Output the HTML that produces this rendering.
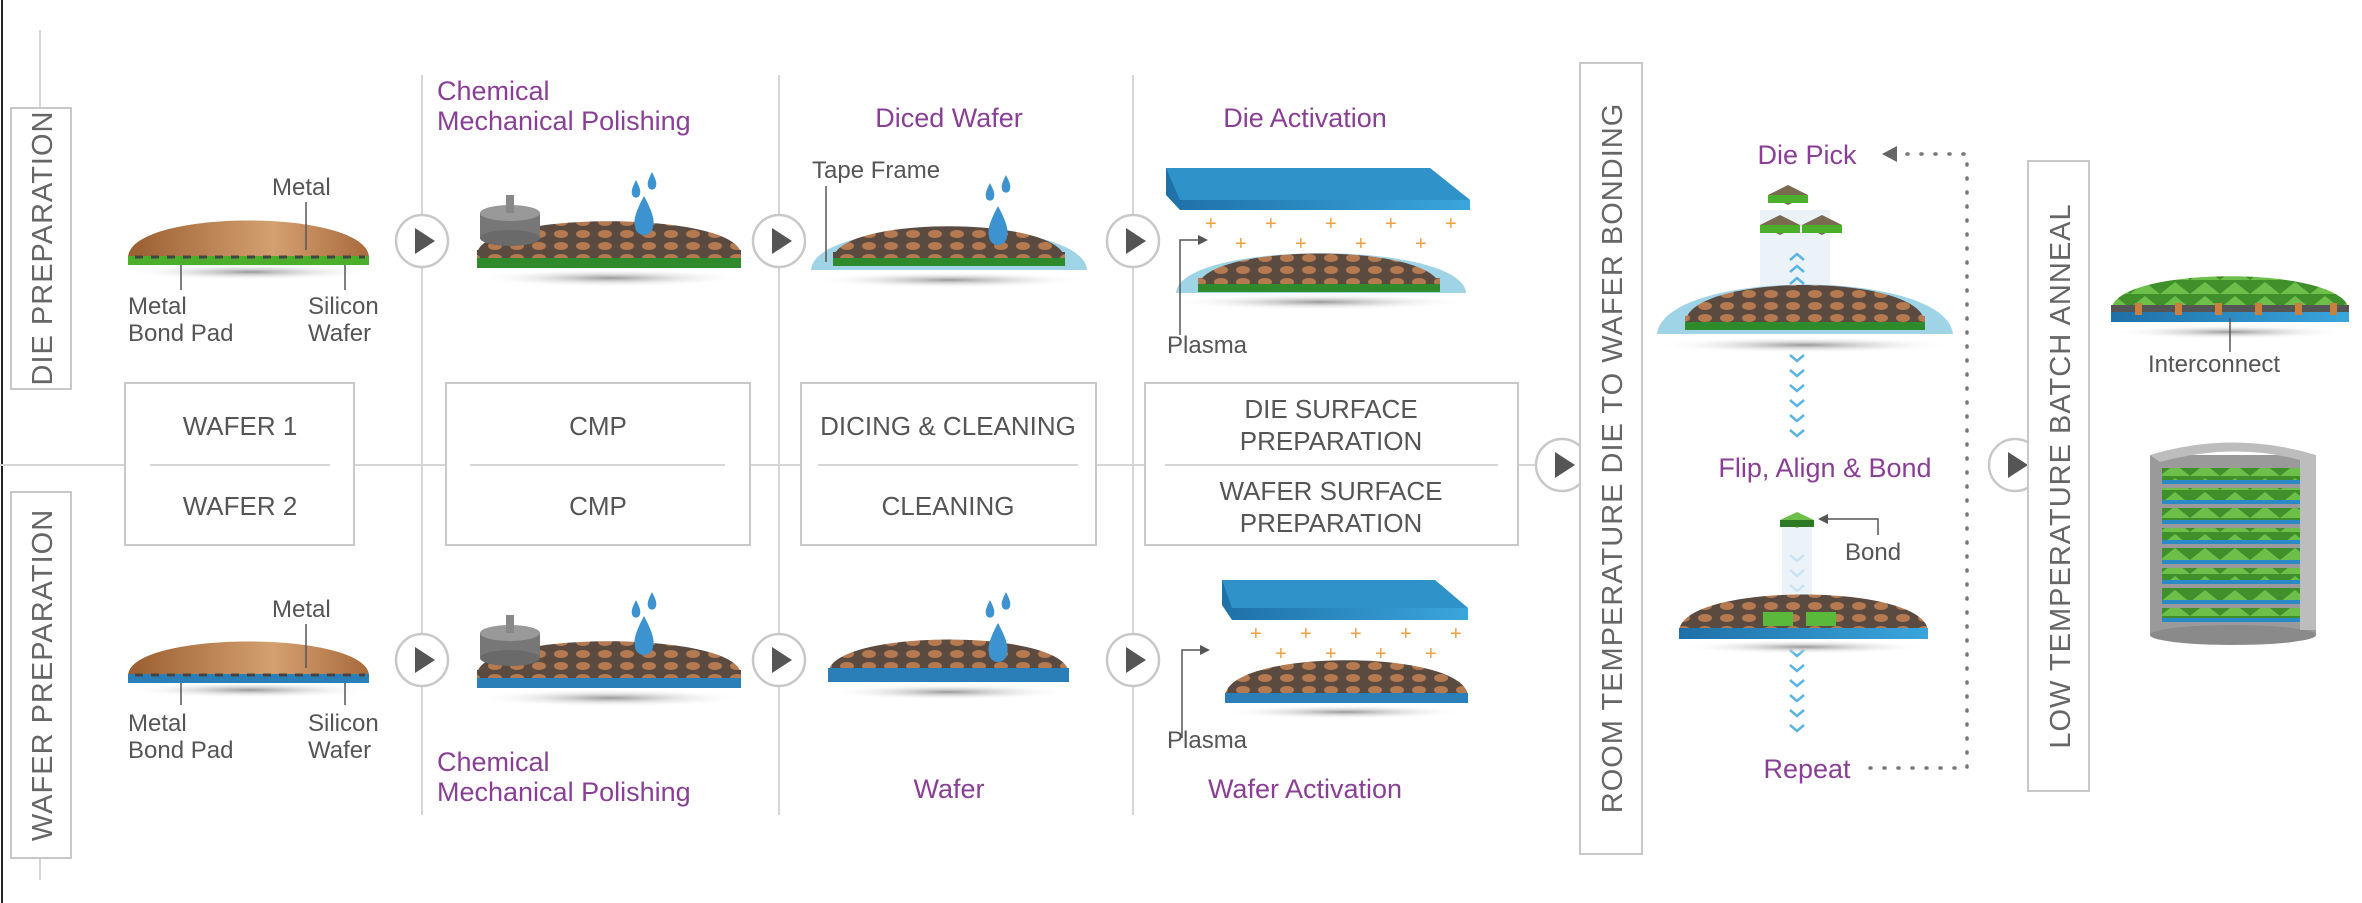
<!DOCTYPE html>
<html><head><meta charset="utf-8"><style>
html,body{margin:0;padding:0;background:#fff;}
svg{display:block;}
text{font-family:"Liberation Sans",sans-serif;}
.g{fill:#555;font-size:24px;}
.p{fill:#8a3f96;font-size:27px;}
.b{fill:#555;font-size:26px;text-anchor:middle;}
.v{fill:#666;font-size:29px;text-anchor:middle;letter-spacing:1px;}
.ln{stroke:#d6d6d6;stroke-width:2;fill:none;}
.bx{stroke:#c8c8c8;stroke-width:2;fill:#fff;}
</style></head><body>
<svg width="2362" height="903" viewBox="0 0 2362 903" xmlns="http://www.w3.org/2000/svg">
<defs>
<pattern id="grid" width="22" height="12" patternUnits="userSpaceOnUse">
<rect width="22" height="12" fill="#5a4a40"/>
<ellipse cx="11" cy="6" rx="7" ry="4" fill="#b57a50"/>
</pattern>
<pattern id="gr" width="30" height="14" patternUnits="userSpaceOnUse">
<rect width="30" height="14" fill="#3f8f2a"/>
<path d="M0 14 L15 2 L30 14" fill="#6cc04a"/>
</pattern>
<linearGradient id="cu" x1="0" x2="1"><stop offset="0" stop-color="#9a5e30"/><stop offset="0.6" stop-color="#d4a070"/><stop offset="1" stop-color="#a86a3c"/></linearGradient>
<linearGradient id="bl" x1="0" x2="1"><stop offset="0" stop-color="#1e70a8"/><stop offset="1" stop-color="#3aa6dc"/></linearGradient>
<radialGradient id="sh"><stop offset="0" stop-color="#999"/><stop offset="1" stop-color="#fff" stop-opacity="0"/></radialGradient>
<g id="arr"><circle r="26" fill="#fff" stroke="#c8c8c8" stroke-width="2.5"/><path d="M-7 -13 L13 0 L-7 13Z" fill="#555"/></g>
<g id="drop"><path d="M0 -22 Q12 0 9 8 A9 9 0 0 1 -9 8 Q-12 0 0 -22Z" fill="#3d92d0"/></g>
</defs>

<line x1="2" y1="0" x2="2" y2="903" stroke="#222" stroke-width="2"/>

<line class="ln" x1="40" y1="30" x2="40" y2="108"/>
<line class="ln" x1="40" y1="858" x2="40" y2="880"/>
<line class="ln" x1="422" y1="75" x2="422" y2="815"/>
<line class="ln" x1="779" y1="75" x2="779" y2="815"/>
<line class="ln" x1="1133" y1="75" x2="1133" y2="815"/>
<line class="ln" x1="0" y1="465" x2="1545" y2="465"/>

<rect class="bx" x="11" y="108" width="60" height="281"/>
<text class="v" transform="translate(52,248) rotate(-90)">DIE PREPARATION</text>
<rect class="bx" x="11" y="492" width="60" height="366"/>
<text class="v" transform="translate(52,675) rotate(-90)">WAFER PREPARATION</text>

<rect class="bx" x="125" y="383" width="229" height="162"/>
<line class="ln" x1="150" y1="465" x2="330" y2="465"/>
<text class="b" x="240" y="435">WAFER 1</text><text class="b" x="240" y="515">WAFER 2</text>
<rect class="bx" x="446" y="383" width="304" height="162"/>
<line class="ln" x1="470" y1="465" x2="725" y2="465"/>
<text class="b" x="598" y="435">CMP</text><text class="b" x="598" y="515">CMP</text>
<rect class="bx" x="801" y="383" width="295" height="162"/>
<line class="ln" x1="818" y1="465" x2="1078" y2="465"/>
<text class="b" x="948" y="435">DICING &amp; CLEANING</text><text class="b" x="948" y="515">CLEANING</text>
<rect class="bx" x="1145" y="383" width="373" height="162"/>
<line class="ln" x1="1165" y1="465" x2="1498" y2="465"/>
<text class="b" x="1331" y="418">DIE SURFACE</text><text class="b" x="1331" y="450">PREPARATION</text>
<text class="b" x="1331" y="500">WAFER SURFACE</text><text class="b" x="1331" y="532">PREPARATION</text>

<use href="#arr" x="422" y="241"/><use href="#arr" x="779" y="241"/><use href="#arr" x="1133" y="241"/>
<use href="#arr" x="422" y="660"/><use href="#arr" x="779" y="660"/><use href="#arr" x="1133" y="660"/>
<use href="#arr" x="1562" y="465"/><use href="#arr" x="2015" y="465"/>

<text class="p" x="437" y="100">Chemical</text><text class="p" x="437" y="130">Mechanical Polishing</text>
<text class="p" x="949" y="127" text-anchor="middle">Diced Wafer</text>
<text class="p" x="1305" y="127" text-anchor="middle">Die Activation</text>
<text class="p" x="437" y="771">Chemical</text><text class="p" x="437" y="801">Mechanical Polishing</text>
<text class="p" x="949" y="798" text-anchor="middle">Wafer</text>
<text class="p" x="1305" y="798" text-anchor="middle">Wafer Activation</text>

<!-- top wafer 1 -->
<ellipse cx="250" cy="272" rx="125" ry="8" fill="url(#sh)"/>
<path d="M128 258 C128 208 369 208 369 258Z" fill="url(#cu)"/>
<rect x="128" y="256" width="241" height="9" fill="#4caf2c"/>
<line x1="135" y1="257" x2="365" y2="257" stroke="#444" stroke-width="3" stroke-dasharray="8 8"/>
<text class="g" x="272" y="195">Metal</text>
<line x1="306" y1="202" x2="306" y2="250" stroke="#555" stroke-width="1.5"/>
<line x1="181" y1="265" x2="181" y2="290" stroke="#555" stroke-width="1.5"/>
<line x1="345" y1="265" x2="345" y2="290" stroke="#555" stroke-width="1.5"/>
<text class="g" x="128" y="314">Metal</text><text class="g" x="128" y="341">Bond Pad</text>
<text class="g" x="308" y="314">Silicon</text><text class="g" x="308" y="341">Wafer</text>

<!-- bottom wafer 2 -->
<ellipse cx="250" cy="690" rx="125" ry="8" fill="url(#sh)"/>
<path d="M128 676 C128 630 369 630 369 676Z" fill="url(#cu)"/>
<rect x="128" y="674" width="241" height="9" fill="#2a7fb8"/>
<line x1="135" y1="675" x2="365" y2="675" stroke="#444" stroke-width="3" stroke-dasharray="8 8"/>
<text class="g" x="272" y="617">Metal</text>
<line x1="306" y1="624" x2="306" y2="668" stroke="#555" stroke-width="1.5"/>
<line x1="181" y1="683" x2="181" y2="705" stroke="#555" stroke-width="1.5"/>
<line x1="345" y1="683" x2="345" y2="705" stroke="#555" stroke-width="1.5"/>
<text class="g" x="128" y="731">Metal</text><text class="g" x="128" y="758">Bond Pad</text>
<text class="g" x="308" y="731">Silicon</text><text class="g" x="308" y="758">Wafer</text>

<!-- CMP top -->
<g>
<ellipse cx="610" cy="278" rx="135" ry="9" fill="url(#sh)"/>
<path d="M477 255 C477 210 741 210 741 255Z" fill="url(#grid)"/>
<rect x="477" y="250" width="264" height="18" fill="url(#grid)"/>
<rect x="477" y="258" width="264" height="10" fill="#2e8a2a"/>
<rect x="480" y="213" width="60" height="25" fill="#777"/><ellipse cx="510" cy="238" rx="30" ry="8" fill="#6a6a6a"/><ellipse cx="510" cy="213" rx="30" ry="8" fill="#999"/>
<rect x="506" y="195" width="8" height="18" fill="#888"/>
<use href="#drop" x="644" y="218"/><use href="#drop" transform="translate(636,190) scale(0.45)"/><use href="#drop" transform="translate(652,182) scale(0.45)"/>
</g>
<g transform="translate(0,420)">
<ellipse cx="610" cy="278" rx="135" ry="9" fill="url(#sh)"/>
<path d="M477 255 C477 210 741 210 741 255Z" fill="url(#grid)"/>
<rect x="477" y="250" width="264" height="18" fill="url(#grid)"/>
<rect x="477" y="258" width="264" height="10" fill="#2a7fb8"/>
<rect x="480" y="213" width="60" height="25" fill="#777"/><ellipse cx="510" cy="238" rx="30" ry="8" fill="#6a6a6a"/><ellipse cx="510" cy="213" rx="30" ry="8" fill="#999"/>
<rect x="506" y="195" width="8" height="18" fill="#888"/>
<use href="#drop" x="644" y="218"/><use href="#drop" transform="translate(636,190) scale(0.45)"/><use href="#drop" transform="translate(652,182) scale(0.45)"/>
</g>

<!-- Diced wafer -->
<ellipse cx="950" cy="280" rx="140" ry="8" fill="url(#sh)"/>
<path d="M811 270 C815 215 1083 215 1087 270Z" fill="#9fd3e6"/>
<path d="M833 260 C833 215 1065 215 1065 260Z" fill="url(#grid)"/>
<rect x="833" y="252" width="232" height="10" fill="url(#grid)"/>
<rect x="833" y="258" width="232" height="8" fill="#2e8a2a"/>
<use href="#drop" x="998" y="228"/><use href="#drop" transform="translate(990,193) scale(0.45)"/><use href="#drop" transform="translate(1006,185) scale(0.45)"/>
<text class="g" x="812" y="178">Tape Frame</text>
<line x1="826" y1="186" x2="826" y2="262" stroke="#555" stroke-width="1.5"/>
<ellipse cx="949" cy="692" rx="122" ry="8" fill="url(#sh)"/>
<path d="M828 674 C828 628 1069 628 1069 674Z" fill="url(#grid)"/>
<rect x="828" y="668" width="241" height="14" fill="#2a7fb8"/>
<use href="#drop" x="998" y="645"/><use href="#drop" transform="translate(990,610) scale(0.45)"/><use href="#drop" transform="translate(1006,602) scale(0.45)"/>

<!-- Die activation -->
<path d="M1166 168 L1430 168 L1470 200 L1470 210 L1180 210 L1166 195Z" fill="url(#bl)"/>
<path d="M1166 168 L1430 168 L1470 200 L1180 200Z" fill="#2f92c8"/>
<g fill="#f0a040" font-size="20" font-family="Liberation Sans">
<text x="1205" y="230">+</text><text x="1265" y="230">+</text><text x="1325" y="230">+</text><text x="1385" y="230">+</text><text x="1445" y="230">+</text>
<text x="1235" y="250">+</text><text x="1295" y="250">+</text><text x="1355" y="250">+</text><text x="1415" y="250">+</text>
</g>
<ellipse cx="1320" cy="302" rx="150" ry="8" fill="url(#sh)"/>
<path d="M1176 293 C1180 240 1462 240 1466 293Z" fill="#9fd3e6"/>
<path d="M1198 288 C1198 242 1440 242 1440 288Z" fill="url(#grid)"/>
<rect x="1198" y="278" width="242" height="8" fill="url(#grid)"/>
<rect x="1198" y="284" width="242" height="8" fill="#2e8a2a"/>
<path d="M1180 335 V240 H1200" fill="none" stroke="#555" stroke-width="1.5"/><path d="M1198 235 L1208 240 L1198 245Z" fill="#555"/>
<text class="g" x="1167" y="353">Plasma</text>
<path d="M1222 580 L1435 580 L1468 608 L1468 620 L1232 620 L1222 605Z" fill="url(#bl)"/>
<path d="M1222 580 L1435 580 L1468 608 L1232 608Z" fill="#2f92c8"/>
<g fill="#f0a040" font-size="20" font-family="Liberation Sans">
<text x="1250" y="640">+</text><text x="1300" y="640">+</text><text x="1350" y="640">+</text><text x="1400" y="640">+</text><text x="1450" y="640">+</text>
<text x="1275" y="660">+</text><text x="1325" y="660">+</text><text x="1375" y="660">+</text><text x="1425" y="660">+</text>
</g>
<ellipse cx="1345" cy="712" rx="125" ry="7" fill="url(#sh)"/>
<path d="M1225 697 C1225 648 1468 648 1468 697Z" fill="url(#grid)"/>
<rect x="1225" y="693" width="243" height="10" fill="#2a7fb8"/>
<path d="M1182 738 V650 H1202" fill="none" stroke="#555" stroke-width="1.5"/><path d="M1200 645 L1210 650 L1200 655Z" fill="#555"/>
<text class="g" x="1167" y="748">Plasma</text>

<rect class="bx" x="1580" y="63" width="62" height="791"/>
<text class="v" transform="translate(1622,458) rotate(-90)">ROOM TEMPERATURE DIE TO WAFER BONDING</text>

<text class="p" x="1807" y="164" text-anchor="middle">Die Pick</text>
<rect x="1760" y="210" width="70" height="90" fill="#e6f0f8" opacity="0.8"/>
<path d="M1768 195 L1788 185 L1808 195 L1788 205Z" fill="#7a6a50"/><rect x="1768" y="195" width="40" height="8" fill="#4caf2c"/>
<path d="M1760 225 L1780 215 L1800 225 L1780 235Z" fill="#7a6a50"/><rect x="1760" y="225" width="40" height="8" fill="#4caf2c"/>
<path d="M1802 225 L1822 215 L1842 225 L1822 235Z" fill="#7a6a50"/><rect x="1802" y="225" width="40" height="8" fill="#4caf2c"/>
<ellipse cx="1805" cy="345" rx="150" ry="8" fill="url(#sh)"/>
<path d="M1657 334 C1665 268 1945 268 1953 334Z" fill="#9fd3e6"/>
<path d="M1685 324 C1685 272 1925 272 1925 324Z" fill="url(#grid)"/>
<rect x="1685" y="316" width="240" height="8" fill="url(#grid)"/>
<rect x="1685" y="322" width="240" height="8" fill="#2e8a2a"/>
<g fill="none" stroke="#5ab4e6" stroke-width="2.5">
<path d="M1790 260 l7 -6 l7 6 M1790 272 l7 -6 l7 6 M1790 284 l7 -6 l7 6"/>
<path d="M1790 355 l7 6 l7 -6 M1790 370 l7 6 l7 -6 M1790 385 l7 6 l7 -6 M1790 400 l7 6 l7 -6 M1790 415 l7 6 l7 -6 M1790 430 l7 6 l7 -6"/>
<path d="M1790 555 l7 6 l7 -6 M1790 570 l7 6 l7 -6 M1790 585 l7 6 l7 -6"/>
<path d="M1790 650 l7 6 l7 -6 M1790 665 l7 6 l7 -6 M1790 680 l7 6 l7 -6 M1790 695 l7 6 l7 -6 M1790 710 l7 6 l7 -6 M1790 725 l7 6 l7 -6"/>
</g>
<text class="p" x="1825" y="477" text-anchor="middle">Flip, Align &amp; Bond</text>
<rect x="1782" y="520" width="30" height="80" fill="#e6f0f8" opacity="0.8"/>
<path d="M1780 520 L1797 512 L1814 520 L1797 528Z" fill="#6cc04a"/><rect x="1780" y="520" width="34" height="7" fill="#2e7a24"/>
<path d="M1820 519 H1878 V535" fill="none" stroke="#555" stroke-width="1.5"/><path d="M1818 519 L1828 514 L1828 524Z" fill="#555"/>
<text class="g" x="1845" y="560">Bond</text>
<ellipse cx="1805" cy="647" rx="125" ry="7" fill="url(#sh)"/>
<path d="M1679 632 C1679 582 1928 582 1928 632Z" fill="url(#grid)"/>
<rect x="1679" y="628" width="249" height="11" fill="url(#bl)"/>
<rect x="1763" y="612" width="30" height="14" fill="#5ab83a"/><rect x="1806" y="612" width="30" height="14" fill="#5ab83a"/>
<text class="p" x="1807" y="778" text-anchor="middle">Repeat</text>
<path d="M1870 768 H1967 V154 H1900" fill="none" stroke="#777" stroke-width="3.5" stroke-dasharray="1 13" stroke-linecap="round"/>
<path d="M1882 154 L1897 146 L1897 162Z" fill="#666"/>

<rect class="bx" x="2028" y="161" width="61" height="630"/>
<text class="v" transform="translate(2070,476) rotate(-90)">LOW TEMPERATURE BATCH ANNEAL</text>

<ellipse cx="2230" cy="332" rx="120" ry="7" fill="url(#sh)"/>
<path d="M2111 310 C2115 265 2345 265 2349 310Z" fill="url(#gr)"/>
<rect x="2111" y="305" width="238" height="10" fill="#555"/>
<rect x="2111" y="312" width="238" height="10" fill="url(#bl)"/>
<g fill="#c8803c"><rect x="2135" y="303" width="7" height="12"/><rect x="2175" y="303" width="7" height="12"/><rect x="2215" y="303" width="7" height="12"/><rect x="2255" y="303" width="7" height="12"/><rect x="2295" y="303" width="7" height="12"/><rect x="2330" y="303" width="7" height="12"/></g>
<line x1="2230" y1="318" x2="2230" y2="352" stroke="#555" stroke-width="1.5"/>
<text class="g" x="2148" y="372">Interconnect</text>

<rect x="2150" y="455" width="166" height="180" fill="#9a9a9a"/>
<ellipse cx="2233" cy="635" rx="83" ry="10" fill="#8a8a8a"/>
<path d="M2150 455 Q2233 430 2316 455 L2316 630 L2300 630 L2300 460 Q2233 442 2160 462 Z" fill="#bdbdbd"/>
<g>
<rect x="2162" y="468" width="138" height="14" fill="url(#gr)"/><rect x="2162" y="480" width="138" height="4" fill="#2a8ac8"/>
<rect x="2162" y="488" width="138" height="14" fill="url(#gr)"/><rect x="2162" y="500" width="138" height="4" fill="#2a8ac8"/>
<rect x="2162" y="508" width="138" height="14" fill="url(#gr)"/><rect x="2162" y="520" width="138" height="4" fill="#2a8ac8"/>
<rect x="2162" y="528" width="138" height="14" fill="url(#gr)"/><rect x="2162" y="540" width="138" height="4" fill="#2a8ac8"/>
<rect x="2162" y="548" width="138" height="14" fill="url(#gr)"/><rect x="2162" y="560" width="138" height="4" fill="#2a8ac8"/>
<rect x="2162" y="568" width="138" height="14" fill="url(#gr)"/><rect x="2162" y="580" width="138" height="4" fill="#2a8ac8"/>
<rect x="2162" y="588" width="138" height="14" fill="url(#gr)"/><rect x="2162" y="600" width="138" height="4" fill="#2a8ac8"/>
<rect x="2162" y="608" width="138" height="12" fill="url(#gr)"/><rect x="2162" y="618" width="138" height="4" fill="#2a8ac8"/>
</g>
</svg>
</body></html>
